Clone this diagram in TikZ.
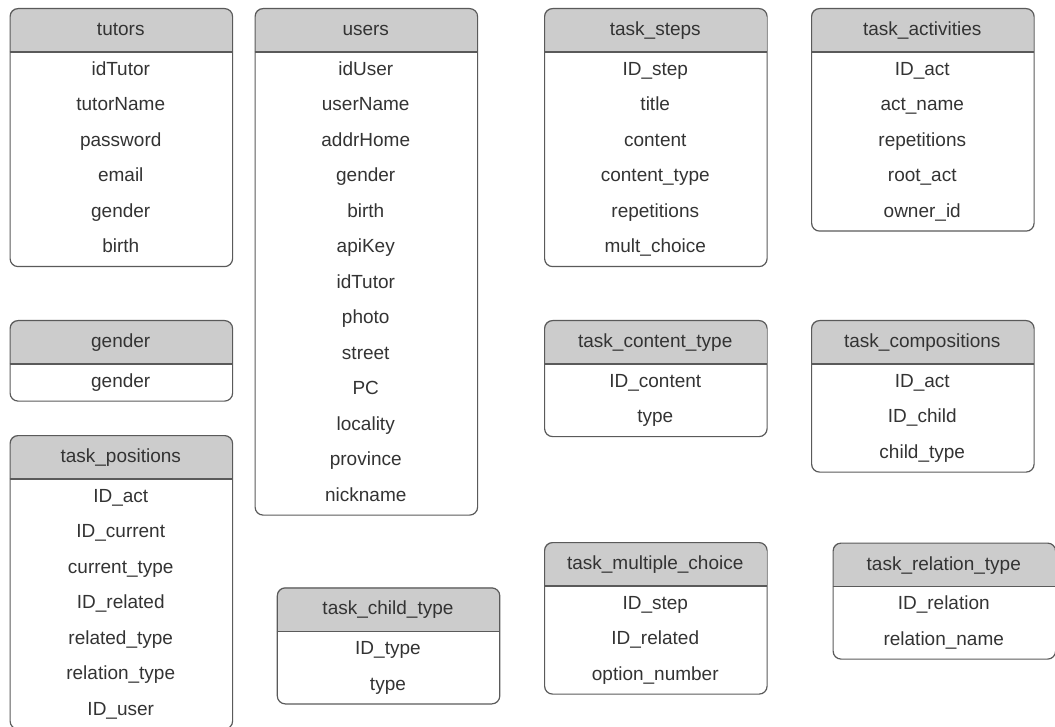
\documentclass[tikz,border=0pt]{standalone}
\usepackage{fontspec}
\setmainfont{Liberation Sans}
\definecolor{txt}{HTML}{333333}
\definecolor{hdrfill}{HTML}{CCCCCC}
\definecolor{edgecol}{HTML}{5A5A5A}
\tikzset{
  tblframe/.style={draw=edgecol, line width=1.2pt, rounded corners=8pt, inner sep=0pt, anchor=north west},
  sepline/.style={draw=edgecol, line width=1.2pt},
  celltext/.style={text=txt, font=\fontsize{19}{22}\selectfont, inner sep=0pt, anchor=base},
}
% #1 name, #2 left x, #3 top y, #4 number of rows, #5 title, #6 rows
\newcommand\ertable[6]{%
  \pgfmathsetmacro\tblH{45+35.5*#4}%
  \begin{scope}
    \clip[rounded corners=8pt] (#2,-#3) rectangle ++(222.5,-\tblH);
    \fill[hdrfill] (#2,-#3) rectangle ++(222.5,-44);
  \end{scope}
  \node[tblframe, minimum width=222.5pt, minimum height=\tblH pt] (#1) at (#2,-#3) {};
  \draw[sepline] (#2,-#3-44) -- ++(222.5,0);
  \node[celltext] (#1-h) at (#2+111.25,-#3-22-5.5) {#5};
  \foreach \r [count=\i] in {#6} {
    \node[celltext] (#1-\i) at (#2+111.25,-#3-44-17.75-35.5*\i+35.5-5.5) {\r};
  }%
}
\begin{document}
\begin{tikzpicture}[x=1pt,y=1pt]
\useasboundingbox (0,0) rectangle (1055,-727);
\ertable{tutors}{9.5}{8}{6}{tutors}{idTutor,tutorName,password,email,gender,birth}
\ertable{users}{254.5}{8}{13}{users}{idUser,userName,addrHome,gender,birth,apiKey,idTutor,photo,street,PC,locality,province,nickname}
\ertable{steps}{544}{8}{6}{task\_steps}{ID\_step,title,content,content\_type,repetitions,mult\_choice}
\ertable{acts}{811}{8}{5}{task\_activities}{ID\_act,act\_name,repetitions,root\_act,owner\_id}
\ertable{gender}{9.5}{320}{1}{gender}{gender}
\ertable{ctype}{544}{320}{2}{task\_content\_type}{ID\_content,type}
\ertable{comp}{811}{320}{3}{task\_compositions}{ID\_act,ID\_child,child\_type}
\ertable{pos}{9.5}{435}{7}{task\_positions}{ID\_act,ID\_current,current\_type,ID\_related,related\_type,relation\_type,ID\_user}
\ertable{child}{276.7}{587.3}{2}{task\_child\_type}{ID\_type,type}
\ertable{mc}{544}{542}{3}{task\_multiple\_choice}{ID\_step,ID\_related,option\_number}
\ertable{rel}{832.5}{542.5}{2}{task\_relation\_type}{ID\_relation,relation\_name}
\end{tikzpicture}
\end{document}
